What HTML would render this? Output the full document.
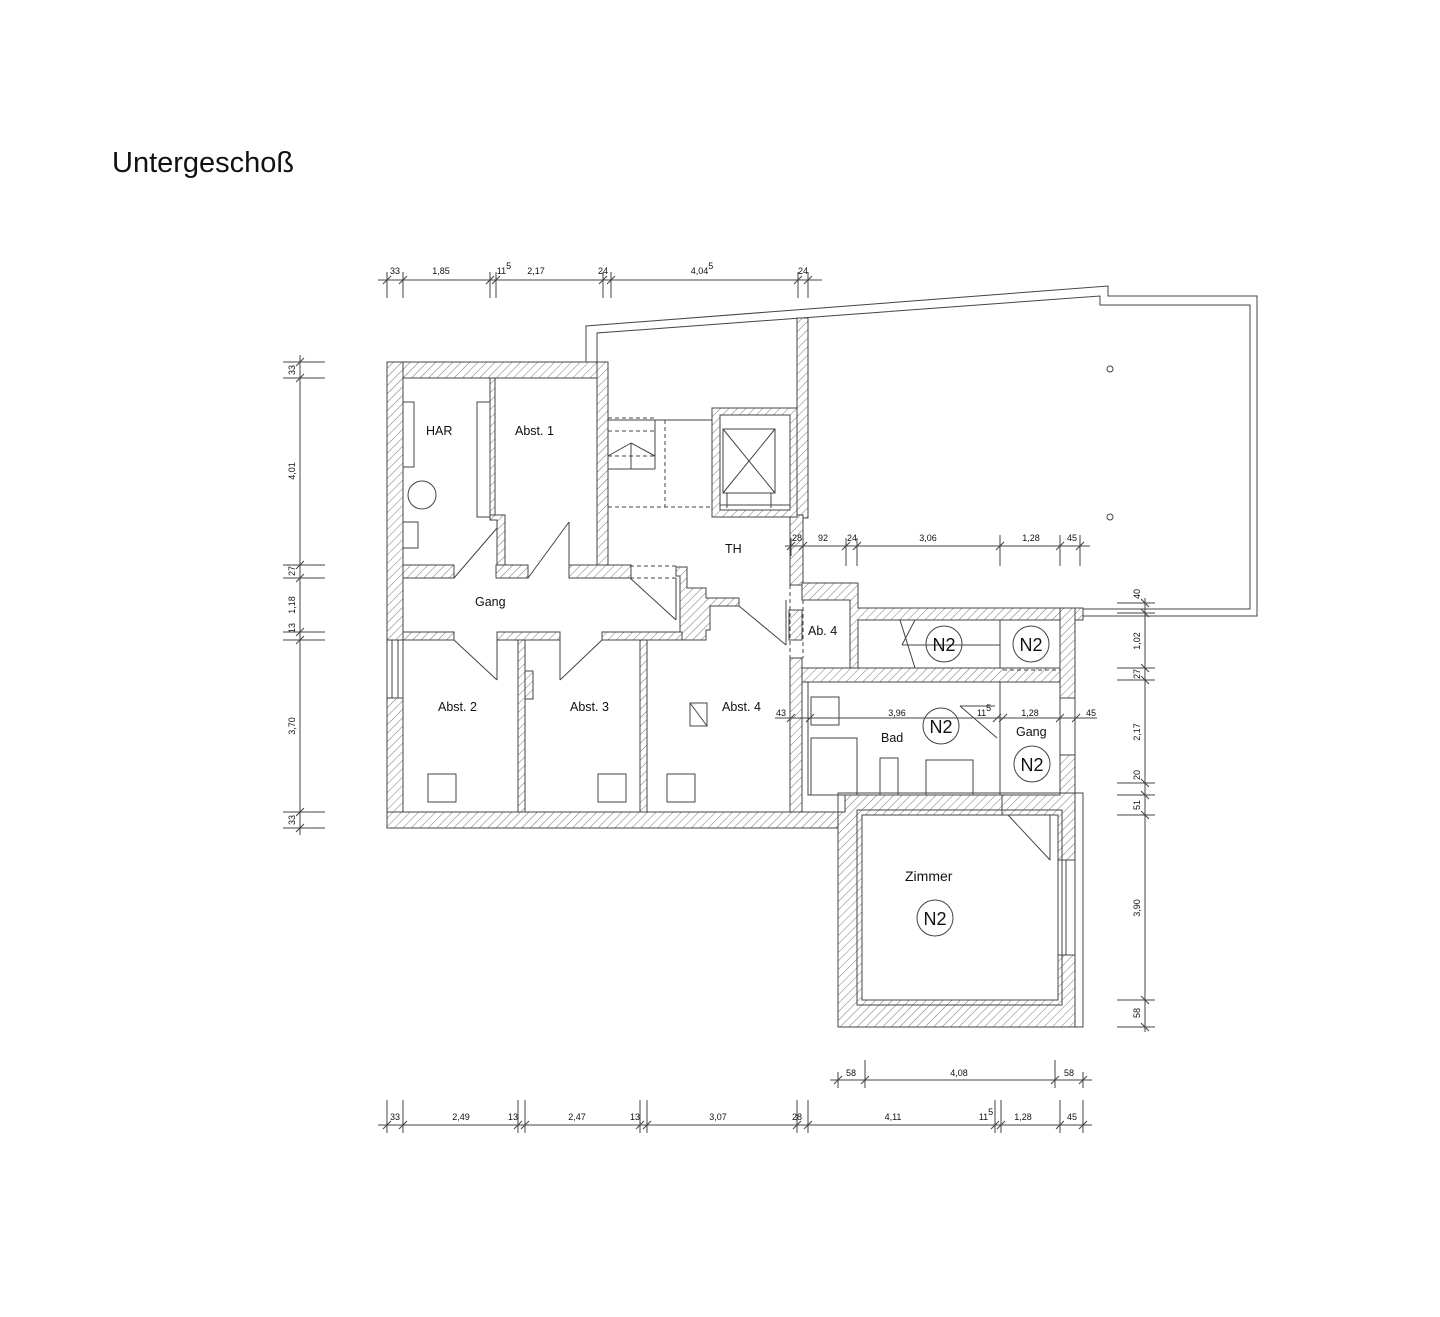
<!DOCTYPE html>
<html><head><meta charset="utf-8"><style>
html,body{margin:0;padding:0;background:#fff}
svg{display:block}
text{font-family:"Liberation Sans",sans-serif;fill:#111}
</style></head><body>
<svg width="1440" height="1317" viewBox="0 0 1440 1317" xmlns="http://www.w3.org/2000/svg">
<defs>
<pattern id="h" width="6" height="6" patternUnits="userSpaceOnUse" patternTransform="rotate(45)">
<rect width="6" height="6" fill="#fff"/><line x1="0" y1="0" x2="0" y2="6" stroke="#666" stroke-width="0.9"/>
</pattern>
</defs>
<text x="112" y="172" font-size="29">Untergeschoß</text>

<g stroke="#444" stroke-width="1" fill="none">
<polyline points="586,362 586,326 1108,286 1108,296 1257,296 1257,616 1080,616"/>
<polyline points="597,362 597,333 1100,296 1100,305 1250,305 1250,609 1083,609"/>
<circle cx="1110" cy="369" r="3"/><circle cx="1110" cy="517" r="3"/>
</g>

<g stroke="#444" stroke-width="1" fill="url(#h)">
<rect x="387" y="362" width="221" height="16"/>
<rect x="387" y="362" width="16" height="278"/>
<rect x="387" y="698" width="16" height="130"/>
<rect x="387" y="812" width="458" height="16"/>
<rect x="597" y="362" width="11" height="203"/>
<rect x="490" y="378" width="5" height="137"/>
<polygon points="490,515 505,515 505,565 497,565 497,520 490,520"/>
<rect x="403" y="565" width="51" height="13"/>
<rect x="496" y="565" width="32" height="13"/>
<rect x="569" y="565" width="62" height="13"/>
<polygon points="676,567 687,567 687,588 706,588 706,598 739,598 739,606 710,606 710,630 706,630 706,640 680,640 680,576 676,576"/>
<rect x="403" y="632" width="51" height="8"/>
<rect x="497" y="632" width="63" height="8"/>
<rect x="602" y="632" width="80" height="8"/>
<rect x="518" y="640" width="7" height="172"/>
<rect x="640" y="640" width="7" height="172"/>
<rect x="525" y="671" width="8" height="28"/>
<rect x="797" y="318" width="11" height="200"/>
<rect x="790" y="515" width="13" height="70"/>
<rect x="789" y="610" width="13" height="30"/>
<rect x="790" y="658" width="12" height="154"/>
<rect x="712" y="408" width="85" height="109"/>
<polygon points="802,583 858,583 858,608 1083,608 1083,620 858,620 858,668 850,668 850,600 802,600"/>
<rect x="802" y="668" width="273" height="14"/>
<rect x="1060" y="608" width="15" height="100"/>
<rect x="1060" y="755" width="15" height="40"/>
<polygon points="838,812 845,812 845,793 1075,793 1075,1027 838,1027"/>
</g>
<g stroke="#444" stroke-width="1" fill="#fff">
<rect x="720" y="415" width="70" height="95"/>
<rect x="862" y="815" width="196" height="185"/>
<rect x="858" y="620" width="202" height="48"/>
<rect x="1000" y="682" width="60" height="113"/>
<rect x="808" y="682" width="192" height="113"/>
<rect x="1058" y="860" width="17" height="95"/>
<rect x="1060" y="698" width="15" height="57"/>
<rect x="387" y="640" width="16" height="58"/>
</g>
<g stroke="#444" stroke-width="1" fill="none">
<rect x="838" y="793" width="245" height="234"/>
<rect x="857" y="810" width="205" height="195"/>
<line x1="1066" y1="860" x2="1066" y2="955"/>
<line x1="392" y1="640" x2="392" y2="698"/><line x1="398" y1="640" x2="398" y2="698"/>
<rect x="723" y="429" width="52" height="64"/>
<line x1="723" y1="429" x2="775" y2="493"/><line x1="775" y1="429" x2="723" y2="493"/>
<line x1="727" y1="493" x2="727" y2="508"/><line x1="771" y1="493" x2="771" y2="508"/>
<line x1="720" y1="505" x2="790" y2="505"/>
<line x1="608" y1="420" x2="712" y2="420"/>
<line x1="655" y1="420" x2="655" y2="469"/>
<line x1="608" y1="469" x2="655" y2="469"/>
<line x1="631" y1="443" x2="631" y2="469"/>
<line x1="608" y1="456" x2="631" y2="443"/><line x1="655" y1="456" x2="631" y2="443"/>
<rect x="403" y="402" width="11" height="65"/>
<rect x="477" y="402" width="13" height="115"/>
<circle cx="422" cy="495" r="14"/>
<rect x="403" y="522" width="15" height="26"/>
<rect x="428" y="774" width="28" height="28"/>
<rect x="598" y="774" width="28" height="28"/>
<rect x="667" y="774" width="28" height="28"/>
<rect x="690" y="703" width="17" height="23"/>
<line x1="690" y1="703" x2="707" y2="726"/>
<rect x="811" y="697" width="28" height="28"/>
<polyline points="811,795 811,738 857,738 857,795"/>
<rect x="880" y="758" width="18" height="37"/>
<rect x="926" y="760" width="47" height="35"/>
<line x1="454" y1="578" x2="497" y2="528"/>
<line x1="528" y1="578" x2="569" y2="522"/><line x1="569" y1="522" x2="569" y2="565"/>
<line x1="454" y1="640" x2="497" y2="680"/><line x1="497" y1="640" x2="497" y2="680"/>
<line x1="602" y1="640" x2="560" y2="680"/><line x1="560" y1="640" x2="560" y2="680"/>
<line x1="630" y1="578" x2="676" y2="620"/><line x1="676" y1="578" x2="676" y2="620"/>
<line x1="739" y1="606" x2="786" y2="645"/><line x1="786" y1="600" x2="786" y2="645"/>
<line x1="900" y1="620" x2="915" y2="668"/><line x1="915" y1="620" x2="902" y2="645"/>
<line x1="902" y1="645" x2="1000" y2="645"/><line x1="1000" y1="620" x2="1000" y2="668"/>
<line x1="960" y1="706" x2="997" y2="738"/><line x1="960" y1="706" x2="995" y2="706"/>
<line x1="1008" y1="815" x2="1050" y2="860"/><line x1="1050" y1="815" x2="1050" y2="860"/>
<line x1="1002" y1="795" x2="1002" y2="815"/>
</g>
<g stroke="#444" stroke-width="1" fill="none" stroke-dasharray="4,3">
<line x1="608" y1="418" x2="655" y2="418"/><line x1="608" y1="431" x2="655" y2="431"/>
<line x1="608" y1="456" x2="655" y2="456"/>
<line x1="665" y1="420" x2="665" y2="507"/>
<line x1="608" y1="507" x2="712" y2="507"/>
<line x1="630" y1="566" x2="676" y2="566"/><line x1="630" y1="578" x2="676" y2="578"/>
<line x1="790" y1="585" x2="790" y2="658"/><line x1="803" y1="600" x2="803" y2="658"/>
<line x1="1003" y1="670" x2="1060" y2="670"/><line x1="1003" y1="682" x2="1060" y2="682"/>
</g>
<g font-size="12.5">
<text x="426" y="435">HAR</text><text x="515" y="435">Abst. 1</text>
<text x="475" y="606">Gang</text><text x="725" y="553">TH</text>
<text x="438" y="711">Abst. 2</text><text x="570" y="711">Abst. 3</text><text x="722" y="711">Abst. 4</text>
<text x="808" y="635">Ab. 4</text><text x="881" y="742">Bad</text><text x="1016" y="736">Gang</text>
<text x="905" y="881" font-size="14">Zimmer</text>
</g>
<g stroke="#444" fill="none"><circle cx="944" cy="644" r="18"/><circle cx="1031" cy="644" r="18"/><circle cx="941" cy="726" r="18"/><circle cx="1032" cy="764" r="18"/><circle cx="935" cy="918" r="18"/></g>
<g font-size="18" text-anchor="middle"><text x="944" y="651">N2</text><text x="1031" y="651">N2</text><text x="941" y="733">N2</text><text x="1032" y="771">N2</text><text x="935" y="925">N2</text></g>

<g stroke="#444" stroke-width="1" fill="none">
<line x1="378" y1="280" x2="822" y2="280"/>
<path d="M387,272V298M403,272V298M490,272V298M496,272V298M603,272V298M611,272V298M798,272V298M808,272V298"/>
<path d="M383,284l8,-8M399,284l8,-8M486,284l8,-8M492,284l8,-8M599,284l8,-8M607,284l8,-8M794,284l8,-8M804,284l8,-8"/>
<line x1="300" y1="355" x2="300" y2="835"/>
<path d="M283,362H325M283,378H325M283,565H325M283,578H325M283,632H325M283,640H325M283,812H325M283,828H325"/>
<path d="M296,366l8,-8M296,382l8,-8M296,569l8,-8M296,582l8,-8M296,636l8,-8M296,644l8,-8M296,816l8,-8M296,832l8,-8"/>
<line x1="1145" y1="598" x2="1145" y2="1032"/>
<path d="M1117,603H1155M1117,613H1155M1117,668H1155M1117,680H1155M1117,783H1155M1117,795H1155M1117,815H1155M1117,1000H1155M1117,1027H1155"/>
<path d="M1141,599l8,8M1141,609l8,8M1141,664l8,8M1141,676l8,8M1141,779l8,8M1141,791l8,8M1141,811l8,8M1141,996l8,8M1141,1023l8,8"/>
<line x1="830" y1="1080" x2="1092" y2="1080"/>
<path d="M838,1072V1088M865,1060V1088M1055,1060V1088M1083,1072V1088"/>
<path d="M834,1084l8,-8M861,1084l8,-8M1051,1084l8,-8M1079,1084l8,-8"/>
<line x1="378" y1="1125" x2="1092" y2="1125"/>
<path d="M387,1100V1133M403,1100V1133M518,1100V1133M525,1100V1133M640,1100V1133M647,1100V1133M797,1100V1133M808,1100V1133M995,1100V1133M1001,1100V1133M1060,1100V1133M1083,1100V1133"/>
<path d="M383,1129l8,-8M399,1129l8,-8M514,1129l8,-8M521,1129l8,-8M636,1129l8,-8M643,1129l8,-8M793,1129l8,-8M804,1129l8,-8M991,1129l8,-8M997,1129l8,-8M1056,1129l8,-8M1079,1129l8,-8"/>
<line x1="785" y1="546" x2="1090" y2="546"/>
<path d="M791,538V556M803,538V556M846,538V566M857,538V566M1000,535V566M1060,535V566M1080,535V566"/>
<path d="M787,550l8,-8M799,550l8,-8M842,550l8,-8M853,550l8,-8M996,550l8,-8M1056,550l8,-8M1076,550l8,-8"/>
<line x1="775" y1="718" x2="1097" y2="718"/>
<path d="M787,722l8,-8M806,722l8,-8M993,722l8,-8M999,722l8,-8M1056,722l8,-8M1072,722l8,-8"/>
</g>
<g font-size="9" text-anchor="middle">
<text x="395" y="274">33</text><text x="441" y="274">1,85</text><text x="504" y="274">11<tspan dy="-5">5</tspan></text><text x="536" y="274">2,17</text><text x="603" y="274">24</text><text x="702" y="274">4,04<tspan dy="-5">5</tspan></text><text x="803" y="274">24</text>
<text x="797" y="541">28</text><text x="823" y="541">92</text><text x="852" y="541">24</text><text x="928" y="541">3,06</text><text x="1031" y="541">1,28</text><text x="1072" y="541">45</text>
<text x="781" y="716">43</text><text x="897" y="716">3,96</text><text x="984" y="716">11<tspan dy="-5">5</tspan></text><text x="1030" y="716">1,28</text><text x="1091" y="716">45</text>
<text x="851" y="1076">58</text><text x="959" y="1076">4,08</text><text x="1069" y="1076">58</text>
<text x="395" y="1120">33</text><text x="461" y="1120">2,49</text><text x="513" y="1120">13</text><text x="577" y="1120">2,47</text><text x="635" y="1120">13</text><text x="718" y="1120">3,07</text><text x="797" y="1120">28</text><text x="893" y="1120">4,11</text><text x="986" y="1120">11<tspan dy="-5">5</tspan></text><text x="1023" y="1120">1,28</text><text x="1072" y="1120">45</text>
</g>
<g font-size="9" text-anchor="middle">
<text transform="translate(295,370) rotate(-90)">33</text>
<text transform="translate(295,471) rotate(-90)">4,01</text>
<text transform="translate(295,571) rotate(-90)">27</text>
<text transform="translate(295,605) rotate(-90)">1,18</text>
<text transform="translate(295,628) rotate(-90)">13</text>
<text transform="translate(295,726) rotate(-90)">3,70</text>
<text transform="translate(295,820) rotate(-90)">33</text>
<text transform="translate(1140,594) rotate(-90)">40</text>
<text transform="translate(1140,641) rotate(-90)">1,02</text>
<text transform="translate(1140,674) rotate(-90)">27</text>
<text transform="translate(1140,732) rotate(-90)">2,17</text>
<text transform="translate(1140,775) rotate(-90)">20</text>
<text transform="translate(1140,805) rotate(-90)">51</text>
<text transform="translate(1140,908) rotate(-90)">3,90</text>
<text transform="translate(1140,1013) rotate(-90)">58</text>
</g>
</svg>
</body></html>
